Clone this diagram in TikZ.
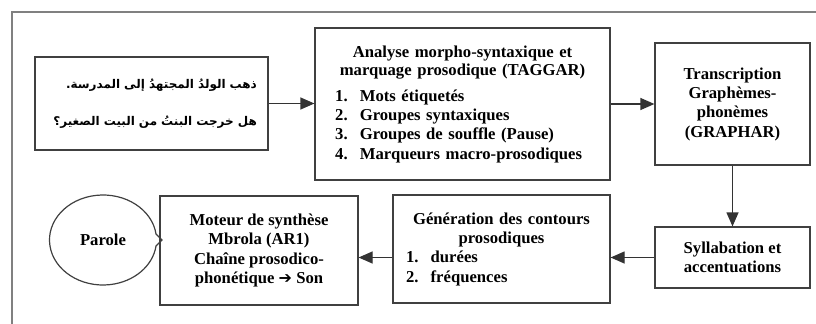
\documentclass[tikz,border=0pt]{standalone}
\usepackage{fontspec}
\setmainfont{Liberation Serif}
\newfontfamily\arabicfont[Script=Arabic]{DejaVu Sans}
\newfontfamily\dingfont{DejaVu Sans}
\TeXXeTstate=1
\usetikzlibrary{arrows.meta,shapes.callouts}
\newcommand{\itemno}[1]{\makebox[18.5pt][l]{#1}}

\begin{document}
\begin{tikzpicture}[x=0.75pt, y=-0.75pt,
    box/.style={draw=black!75, line width=0.9pt, inner sep=0pt,
      font=\bfseries\fontsize{12.5}{14.5}\selectfont},
    arr/.style={draw=black!80, line width=0.9pt, -{Triangle[length=10.5pt,width=9pt]}}]
  \useasboundingbox (0,0) rectangle (816,324);
  \draw[gray, line width=1pt] (12,330) -- (12,12) -- (830,12);
  \node[box, minimum width=174.75pt, minimum height=69.75pt,
      text width=158pt, align=right, font=\bfseries\fontsize{9}{11}\selectfont]
      (phrases) at (151.5,103.5)
      {\mbox{\arabicfont\beginR ذهب الولدُ المجتهدُ إلى المدرسة.\endR}\\[17pt]
       \mbox{\arabicfont\beginR هل خرجت البنتُ من البيت الصغير؟\endR}};
  \node[box, minimum width=221.25pt, minimum height=114pt,
      text width=191pt, align=left] (taggar) at (462.5,104)
      {{\centering\fontsize{12.5}{13.5}\selectfont Analyse morpho-syntaxique et\\
        marquage prosodique (TAGGAR)\par}\vspace{5pt}
       \itemno{1.}Mots étiquetés\\
       \itemno{2.}Groupes syntaxiques\\
       \itemno{3.}Groupes de souffle (Pause)\\
       \itemno{4.}Marqueurs macro-prosodiques};
  \node[box, minimum width=116.25pt, minimum height=91.5pt, align=center]
      (graphar) at (732.5,104)
      {Transcription\\ Graphèmes-\\ phonèmes\\ (GRAPHAR)};
  \node[box, minimum width=116.25pt, minimum height=45.75pt, align=center]
      (syllab) at (732.5,257.5)
      {Syllabation et\\ accentuations};
  \node[box, minimum width=162.75pt, minimum height=81pt,
      text width=143.25pt, align=left] (contours) at (501.5,249)
      {{\centering Génération des contours\\ prosodiques\par}
       \itemno{1.}durées\\
       \itemno{2.}fréquences};
  \node[box, minimum width=148.5pt, minimum height=81.75pt, align=center]
      (moteur) at (259,250.5)
      {Moteur de synthèse\\ Mbrola (AR1)\\ Chaîne prosodico-\\
       phonétique {\dingfont\bfseries\fontsize{12}{12}\selectfont ➔} Son};
  \node[box, ellipse callout, minimum width=80.25pt, minimum height=67.5pt,
      callout absolute pointer={(162,240)}] (parole) at (103,240) {Parole};
  \draw[arr] (phrases.east) -- (phrases.east -| taggar.west);
  \draw[arr] (taggar.east) -- (taggar.east -| graphar.west);
  \draw[arr] (graphar.south) -- (syllab.north);
  \draw[arr] (syllab.west) -- (syllab.west -| contours.east);
  \draw[arr] (syllab.west -| contours.west) -- (syllab.west -| moteur.east);
\end{tikzpicture}
\end{document}
